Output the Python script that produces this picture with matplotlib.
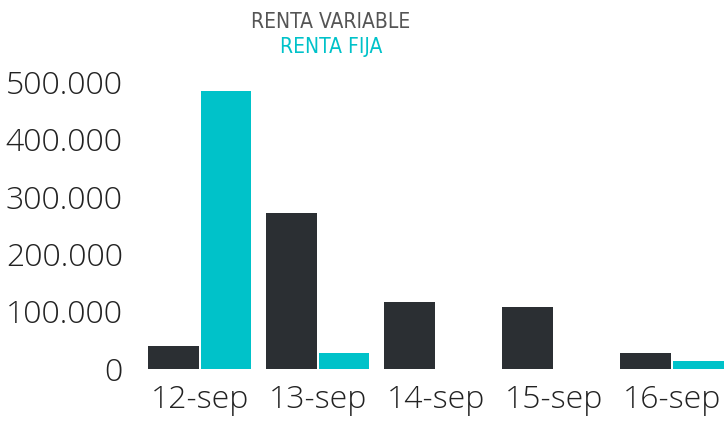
import matplotlib.pyplot as plt
import numpy as np

fechas = ['12-sep', '13-sep', '14-sep', '15-sep', '16-sep']
renta_variable = [39000, 271000, 116000, 107000, 27500]
renta_fija = [485000, 26500, 0, 0, 13000]
y_ticks = [0, 100000, 200000, 300000, 400000, 500000]
y_tick_labels = ['0', '100.000', '200.000', '300.000', '400.000', '500.000']

dark = '#2b2f33'
cyan = '#00c2c9'

fig = plt.figure(figsize=(7.25, 4.23), dpi=100)
ax = fig.add_axes([0.202, 0.1288, 0.798, 0.677])

x = np.arange(len(fechas))
w = 0.43
ax.bar(x - w / 2 - 0.008, renta_variable, width=w, color=dark)
ax.bar(x + w / 2 + 0.008, renta_fija, width=w, color=cyan)

ax.set_xlim(-0.45, 4.45)
ax.set_ylim(0, 500000)
ax.set_xticks(x)
ax.set_xticklabels(fechas)
ax.set_yticks(y_ticks)
ax.set_yticklabels(y_tick_labels)
for lab in ax.get_xticklabels() + ax.get_yticklabels():
    lab.set_family(['Open Sans', 'DejaVu Sans'])
    lab.set_fontweight('light')
    lab.set_fontsize(23)
    lab.set_color('#222222')
ax.tick_params(axis='both', length=0)
ax.tick_params(axis='y', pad=17)
ax.tick_params(axis='x', pad=11)
for s in ax.spines.values():
    s.set_visible(False)

# leyenda como texto
fig.text(331 / 725, 1 - 22 / 423, 'RENTA VARIABLE', ha='center', va='center',
         fontsize=15, color='#555555', family='DejaVu Sans', fontstretch='condensed')
fig.text(331 / 725, 1 - 47 / 423, 'RENTA FIJA', ha='center', va='center',
         fontsize=15, color=cyan, family='DejaVu Sans', fontstretch='condensed')

fig.savefig('out.png', dpi=100)
